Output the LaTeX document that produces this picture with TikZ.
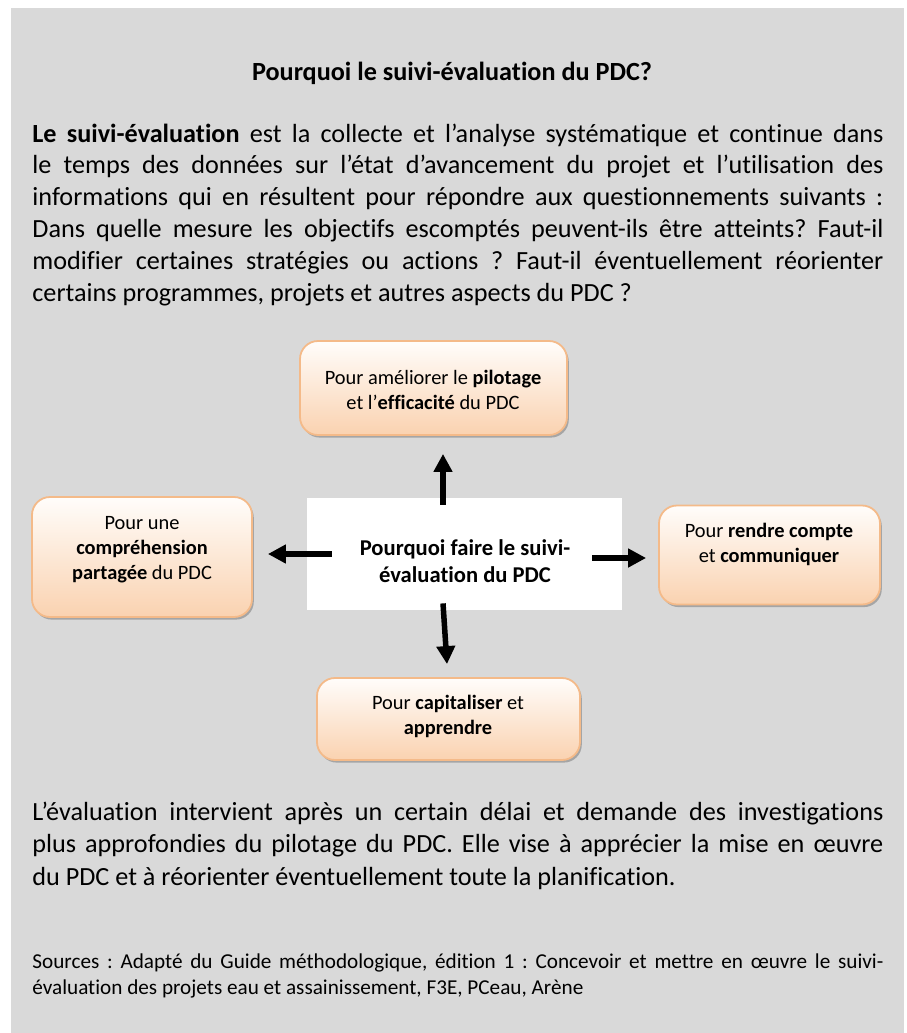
\documentclass[tikz,border=0pt]{standalone}
\usepackage{fontspec}
\setmainfont{Carlito}[Ligatures=NoCommon]
\usetikzlibrary{arrows.meta,shadows}
\definecolor{bggray}{RGB}{217,217,217}
\definecolor{boxline}{RGB}{244,186,137}
\definecolor{boxbot}{RGB}{250,210,176}
\definecolor{boxtop}{RGB}{255,253,251}
\newcommand{\jline}[1]{\makebox[425.5pt][s]{#1}}
\frenchspacing
\begin{document}
\begin{tikzpicture}[x=0.5pt,y=-0.5pt,
  body/.style={anchor=base west,inner sep=0pt,font=\fontsize{13.1}{16}\selectfont},
  src/.style={anchor=base west,inner sep=0pt,font=\fontsize{10.6}{13}\selectfont},
  obox/.style={draw=boxline,line width=0.9pt,rounded corners=9pt,top color=boxtop,bottom color=boxbot,
     drop shadow={shadow xshift=0.9pt,shadow yshift=-1.3pt,fill=black!60,opacity=0.45},inner sep=0pt},
  olab/.style={align=center,inner sep=0pt,font=\fontsize{10.2}{12.5}\selectfont},
  arr/.style={line width=2.75pt,-{Triangle[width=9pt,length=9pt]}}]
\useasboundingbox (0,0) rectangle (906,1033);
\fill[bggray] (11,8) rectangle (904,1033);

\node[anchor=base,inner sep=0pt,font=\fontsize{13.1}{16}\selectfont\bfseries] (title) at (452,80) {Pourquoi le suivi-évaluation du PDC?};

\node[body] (p1) at (32,142) {\jline{\textbf{Le suivi-évaluation} est la collecte et l’analyse systématique et continue dans}};
\node[body] (p2) at (32,173.8) {\jline{le temps des données sur l’état d’avancement du projet et l’utilisation des}};
\node[body] (p3) at (32,205.6) {\jline{informations qui en résultent pour répondre aux questionnements suivants :}};
\node[body] (p4) at (32,237.4) {\jline{Dans quelle mesure les objectifs escomptés peuvent-ils être atteints? Faut-il}};
\node[body] (p5) at (32,269.2) {\jline{modifier certaines stratégies ou actions ? Faut-il éventuellement réorienter}};
\node[body] (p6) at (32,301) {certains programmes, projets et autres aspects du PDC ?};

% boxes
\node[obox,minimum width=133.5pt,minimum height=47pt] (T) at (433.5,388) {};
\node[olab] (Tt) at (433,390) {Pour améliorer le \textbf{pilotage}\\et l’\textbf{efficacité} du PDC};
\node[obox,minimum width=110pt,minimum height=60pt] (L) at (142,557) {};
\node[olab] (Lt) at (142,550) {Pour une\\\textbf{compréhension}\\\textbf{partagée} du PDC};
\node[obox,minimum width=110.5pt,minimum height=49.5pt] (R) at (769.5,555) {};
\node[olab] (Rt) at (769,544) {Pour \textbf{rendre compte}\\et \textbf{communiquer}};
\node[obox,minimum width=131.5pt,minimum height=41pt] (B) at (448.5,719) {};
\node[olab] (Bt) at (448,716) {Pour \textbf{capitaliser} et\\\textbf{apprendre}};

\node[fill=white,minimum width=157.5pt,minimum height=56pt,inner sep=0pt] (C) at (464.5,554) {};
\node[align=center,inner sep=0pt,font=\fontsize{11.3}{13.5}\selectfont\bfseries] (Ct) at (465,561) {Pourquoi faire le suivi-\\évaluation du PDC};

% arrows
\draw[arr] ([xshift=-10.75pt,yshift=-3.5pt]C.north) coordinate (a1) -- ([yshift=-9pt]T.south -| a1);
\draw[arr] ([xshift=-10.75pt,yshift=3.5pt]C.south) -- ([xshift=-0.75pt,yshift=6.5pt]B.north);
\draw[arr] ([xshift=12.5pt]C.west) coordinate (a3) -- ([xshift=7.5pt]L.east |- a3);
\draw[arr] ([xshift=-15pt,yshift=-2pt]C.east) coordinate (a4) -- ([xshift=-6pt]R.west |- a4);

\node[body] (q1) at (32,820) {\jline{L’évaluation intervient après un certain délai et demande des investigations}};
\node[body] (q2) at (32,852.5) {\jline{plus approfondies du pilotage du PDC. Elle vise à apprécier la mise en œuvre}};
\node[body] (q3) at (32,885) {du PDC et à réorienter éventuellement toute la planification.};

\node[src] (s1) at (32,968) {\makebox[425.5pt][s]{Sources : Adapté du Guide méthodologique, édition 1 : Concevoir et mettre en œuvre le suivi-}};
\node[src] (s2) at (32,994) {évaluation des projets eau et assainissement, F3E, PCeau, Arène};
\end{tikzpicture}
\end{document}
